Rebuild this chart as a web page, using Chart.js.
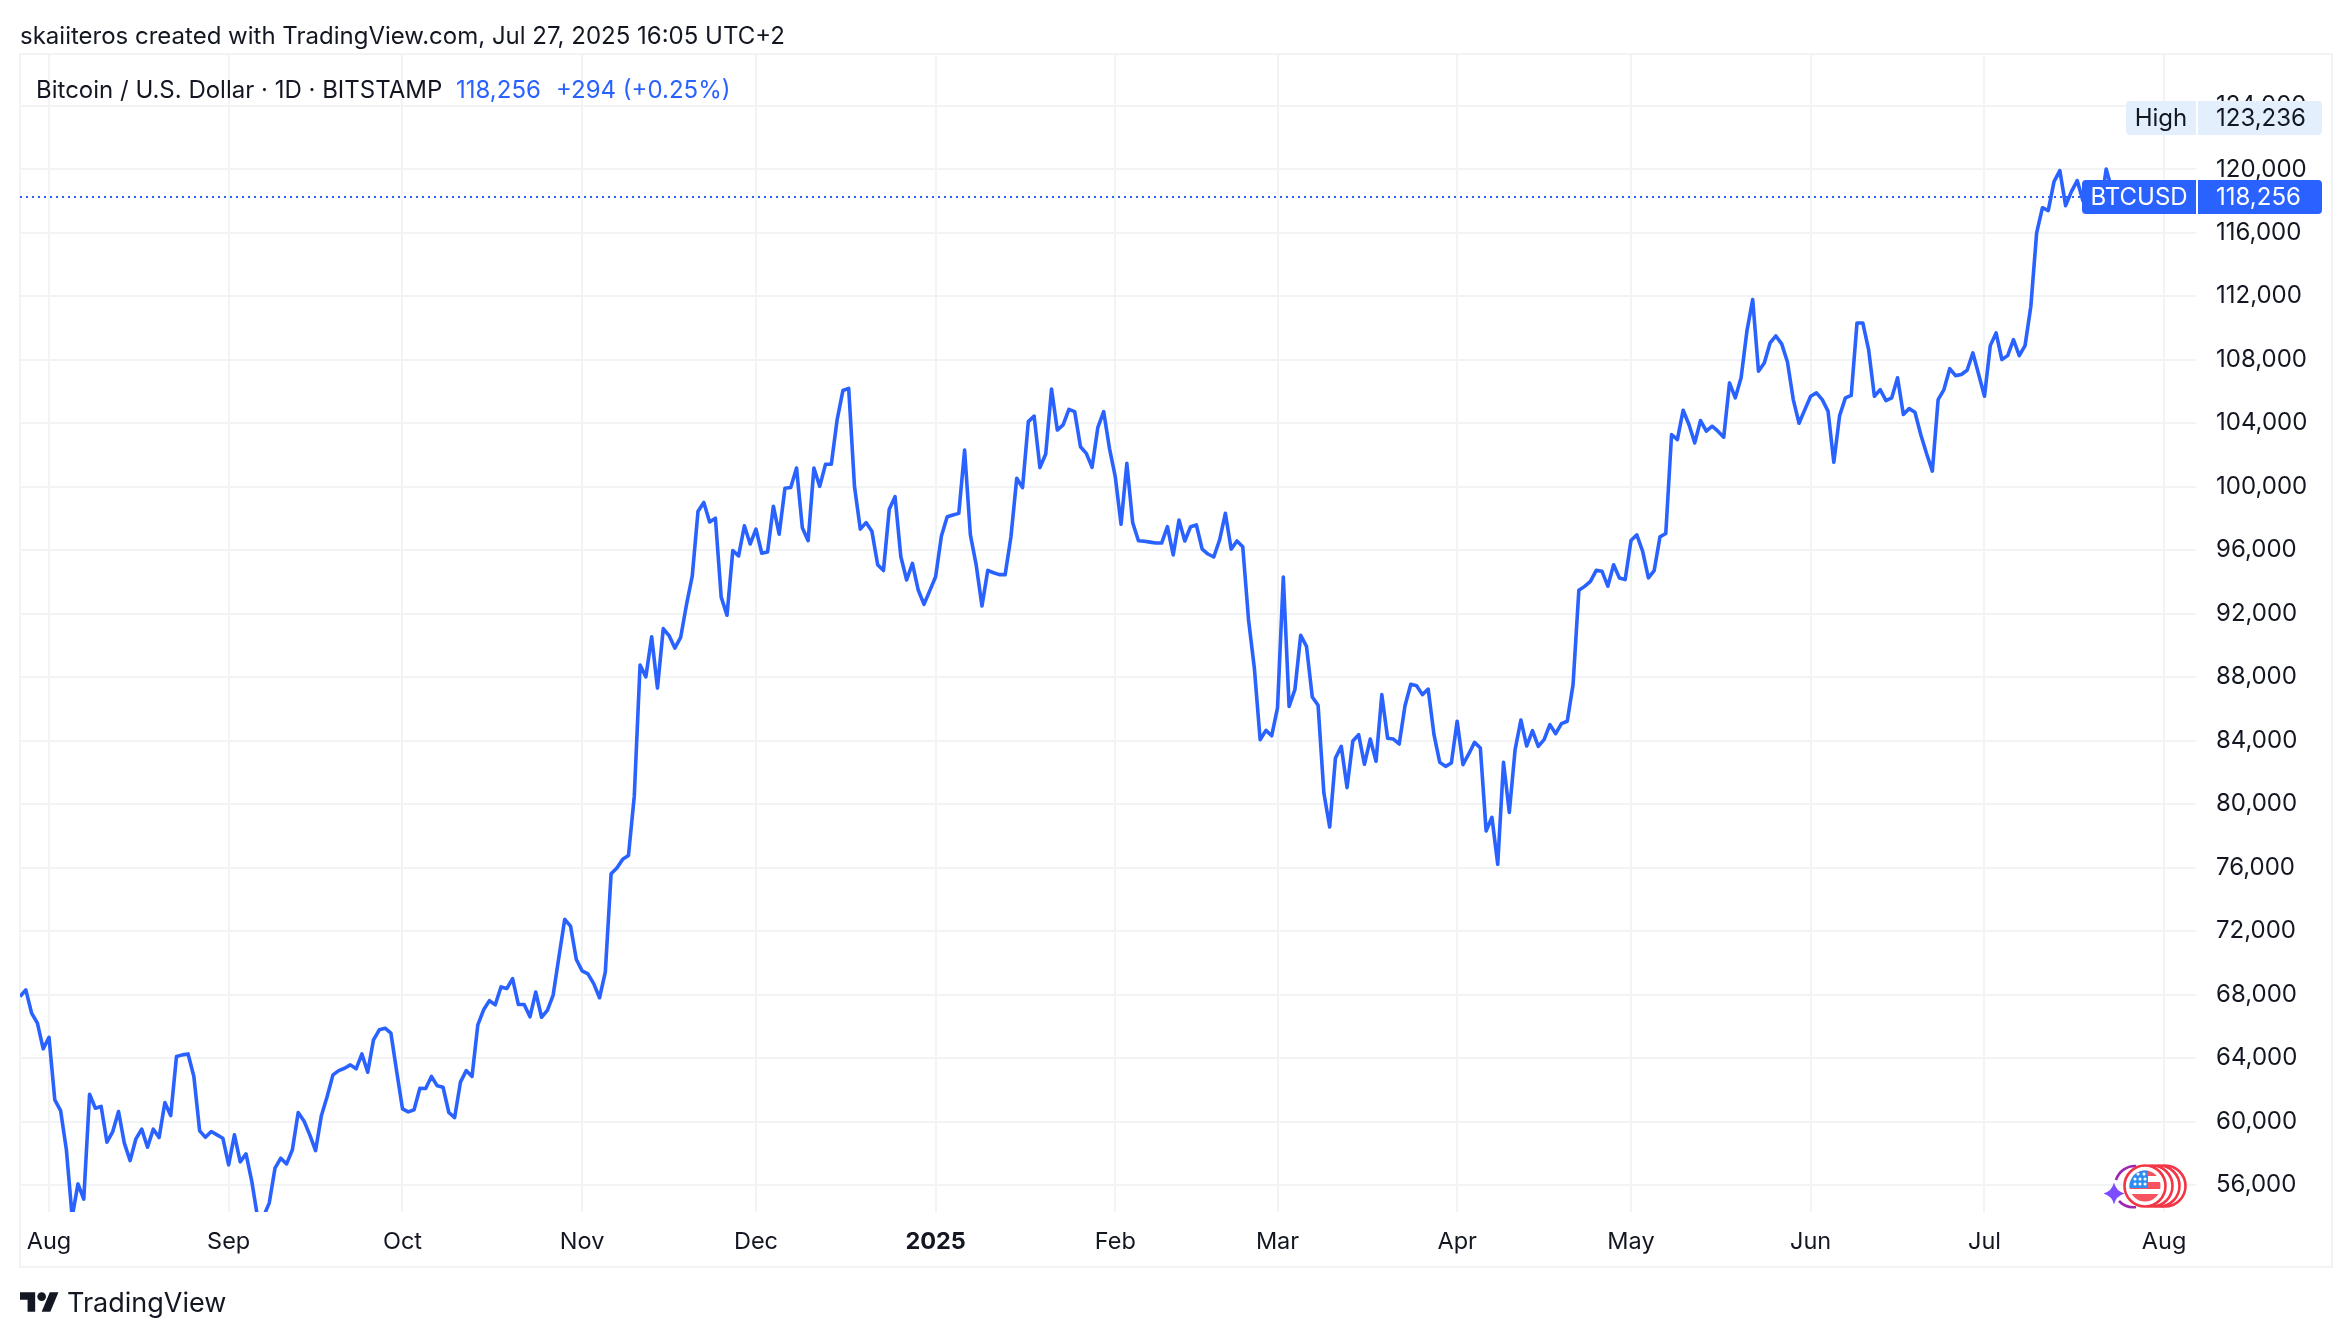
<!DOCTYPE html>
<html lang="en">
  <head>
    <meta charset="UTF-8" />
    <title>Bitcoin / U.S. Dollar</title>
    <script src="https://cdn.jsdelivr.net/npm/chart.js"></script>
    <style>
      body { margin: 0; background: #fff; width: 2352px; height: 1338px; position: relative; overflow: hidden;
             font-family: Inter, "Noto Sans", sans-serif; color: #131722; }
      canvas { position: absolute; left: 0; top: 0; }
      .txt { position: absolute; white-space: pre; line-height: 32px; }
      .blue { color: #2962ff; }
      svg { position: absolute; overflow: visible; }
    </style>
  </head>

  <body>
    <canvas id="btc-chart" width="2352" height="1338"></canvas>

    <div class="txt" style="left: 20px; top: 20px; font-size: 24px">skaiiteros created with TradingView.com, Jul 27, 2025 16:05 UTC+2</div>
    <div class="txt" style="left: 36px; top: 74px; font-size: 24px">Bitcoin / U.S. Dollar · 1D · BITSTAMP</div>
    <div class="txt blue" style="left: 456px; top: 74px; font-size: 24px">118,256</div>
    <div class="txt blue" style="left: 556px; top: 74px; font-size: 24px">+294 (+0.25%)</div>

    <!-- footer logo -->
    <svg style="left: 20px; top: 1292px" width="39" height="20" viewBox="0 4 36 18">
      <path d="M14 22H7V11H0V4h14v18zM28 22h-8l7.5-18h8L28 22z" fill="#131722" />
      <circle cx="20" cy="8" r="4" fill="#131722" />
    </svg>
    <div class="txt" style="left: 67px; top: 1287px; font-size: 27px">TradingView</div>

    <!-- economic event badge on the time axis -->
    <svg style="left: 2100px; top: 1155px" width="100" height="60" viewBox="0 0 100 60">
      <defs>
        <clipPath id="flag-disk"><circle cx="45" cy="31" r="15.5" /></clipPath>
      </defs>
      <path d="M16 25A20 20 0 0 1 36 11M19 46A20 20 0 0 0 36 52" fill="none" stroke="#9c27b0" stroke-width="2.6" />
      <g fill="#fff" stroke="#f23645" stroke-width="2.6">
        <circle cx="65" cy="31" r="20.5" />
        <circle cx="59" cy="31" r="20.5" />
        <circle cx="52" cy="31" r="20.5" />
        <circle cx="45" cy="31" r="20.5" />
      </g>
      <g clip-path="url(#flag-disk)">
        <rect x="29" y="15" width="32" height="6" fill="#f7525f" />
        <rect x="29" y="27" width="32" height="7" fill="#f7525f" />
        <rect x="29" y="39" width="32" height="8" fill="#f7525f" />
        <rect x="29" y="15" width="19" height="18" fill="#2e8ff0" />
        <g fill="#fff">
          <circle cx="38" cy="19" r="1.5" /><circle cx="44" cy="19" r="1.5" />
          <circle cx="35" cy="24" r="1.5" /><circle cx="40" cy="24" r="1.5" /><circle cx="45" cy="24" r="1.5" />
          <circle cx="35" cy="29" r="1.5" /><circle cx="40" cy="29" r="1.5" /><circle cx="45" cy="29" r="1.5" />
        </g>
      </g>
      <path d="M14 27.5Q16 36 24.5 38.5Q16 41 14 49.5Q12 41 3.5 38.5Q12 36 14 27.5Z" fill="#7b4dff" />
    </svg>

    <script>
      // days counted from 1 Aug 2024
      const firstDay = -5;
      const monthDays = [0, 31, 61, 92, 122, 153, 184, 212, 243, 273, 304, 334, 365];
      const monthLabels = ["Aug", "Sep", "Oct", "Nov", "Dec", "2025", "Feb", "Mar", "Apr", "May", "Jun", "Jul", "Aug"];
      const priceTicks = [56000, 60000, 64000, 68000, 72000, 76000, 80000, 84000, 88000, 92000, 96000, 100000,
        104000, 108000, 112000, 116000, 120000, 124000];
      const lastPrice = 118256;
      const highPrice = 123236;

      // daily closes, 27 Jul 2024 to 27 Jul 2025
      const closes = [
        67880, 68300, 66830, 66200, 64580,
        // Aug
        65310, 61370, 60690, 58220, 53990, 56070, 55110, 61720, 60840, 60950, 58700, 59370, 60630, 58640, 57540, 58910,
        59520, 58380, 59520, 58990, 61200, 60380, 64100, 64200, 64260, 62840, 59410, 59010, 59370, 59160, 58950,
        // Sep
        57270, 59160, 57460, 57960, 56220, 53950, 54000, 54860, 57060, 57690, 57330, 58220, 60570, 60040, 59160,
        58170, 60360, 61580, 62940, 63210, 63360, 63570, 63320, 64260, 63110, 65150, 65780, 65880, 65570, 63150,
        // Oct
        60800, 60610, 60740, 62100, 62080, 62840, 62250, 62160, 60570, 60250, 62480, 63210, 62840, 66090, 67040, 67620,
        67350, 68480, 68380, 69010, 67370, 67370, 66600, 68160, 66570, 67010, 67970, 70380, 72740, 72310, 70210,
        // Nov
        69490, 69300, 68690, 67800, 69420, 75610, 75970, 76530, 76770, 80500, 88770, 88020, 90550, 87320, 91060,
        90620, 89830, 90500, 92550, 94360, 98460, 99010, 97780, 98020, 93040, 91900, 95980, 95640, 97540, 96390,
        // Dec
        97330, 95810, 95880, 98770, 97010, 99900, 99950, 101180, 97420, 96600, 101180, 100020, 101420, 101420, 104210, 106060,
        106200, 100010, 97330, 97740, 97200, 95080, 94720, 98580, 99370, 95590, 94120, 95170, 93490, 92590, 93450,
        // Jan
        94330, 96890, 98110, 98220, 98320, 102310, 96960, 95070, 92480, 94730, 94580, 94460, 94460, 96850, 100530, 99940,
        104100, 104450, 101200, 102060, 106150, 103570, 103890, 104870, 104730, 102520, 102100, 101220, 103740, 104730, 102420,
        // Feb
        100630, 97630, 101470, 97750, 96600, 96560, 96510, 96450, 96450, 97480, 95700, 97900, 96580, 97480,
        97590, 96070, 95760, 95570, 96640, 98320, 96070, 96580, 96220, 91620, 88580, 84060, 84650, 84310,
        // Mar
        86060, 94310, 86160, 87210, 90640, 89940, 86750, 86230, 80700, 78560, 82910, 83640, 81040, 83980, 84380, 82510,
        84100, 82700, 86900, 84150, 84100, 83790, 86200, 87550, 87460, 86900, 87250, 84380, 82630, 82380, 82590,
        // Apr
        85220, 82490, 83160, 83890, 83540, 78310, 79170, 76210, 82630, 79480, 83430, 85300, 83660, 84630, 83640,
        84060, 85010, 84440, 85070, 85220, 87530, 93470, 93720, 94040, 94730, 94670, 93730, 95080, 94250, 94150,
        // May
        96610, 96970, 95940, 94260, 94720, 96840, 97050, 103290, 102970, 104820, 103920, 102760, 104170, 103500, 103810, 103500,
        103120, 106540, 105600, 106860, 109800, 111790, 107280, 107800, 109060, 109500, 109000, 107860, 105490, 104000, 104860,
        // Jun
        105700, 105910, 105490, 104760, 101540, 104480, 105600, 105760, 110320, 110320, 108640, 105700, 106120, 105430, 105600,
        106860, 104550, 104920, 104690, 103290, 102090, 100980, 105490, 106120, 107440, 107000, 107070, 107340, 108430, 107070,
        // Jul
        105700, 108890, 109690, 108010, 108260, 109270, 108260, 108890, 111370, 116000, 117580, 117400, 119220, 119920,
        117710, 118590, 119290, 118000, 117900, 117300, 117400, 120020, 118700, 118400, 117600, 117950, lastPrice,
      ];

      const paneLeftDay = -5.004;
      const paneRightDay = 370.5;
      const paneMin = 54300;
      const paneMax = 127265;

      const gridColor = "#f2f3f4";
      const fontFamily = 'Inter, "Noto Sans", sans-serif';

      // High and BTCUSD tags sitting on the price axis
      const priceTags = {
        id: "priceTags",
        afterDraw(chart) {
          const { ctx, chartArea, scales } = chart;
          const right = chartArea.right;
          const drawTag = (name, value, bg, fg, nameLeft) => {
            const y = Math.round(scales.y.getPixelForValue(value));
            ctx.fillStyle = bg;
            ctx.beginPath();
            ctx.roundRect(nameLeft, y - 17, right - nameLeft, 34, [4, 0, 0, 4]);
            ctx.roundRect(right + 2, y - 17, 124, 34, [0, 4, 4, 0]);
            ctx.fill();
            ctx.fillStyle = fg;
            ctx.font = "24px " + fontFamily;
            ctx.textBaseline = "middle";
            ctx.textAlign = "center";
            ctx.fillText(name, (nameLeft + right) / 2, y + 1);
            ctx.textAlign = "left";
            ctx.fillText(value.toLocaleString("en-US"), right + 20, y + 1);
          };
          ctx.save();
          drawTag("High", highPrice, "#e3effd", "#131722", right - 70);
          drawTag("BTCUSD", lastPrice, "#2962ff", "#ffffff", right - 114);
          ctx.restore();
        },
      };

      // outer frame around pane and axes
      const outerFrame = {
        id: "outerFrame",
        beforeDraw(chart) {
          const { ctx } = chart;
          ctx.save();
          ctx.strokeStyle = gridColor;
          ctx.lineWidth = 2;
          ctx.strokeRect(20, 54, 2312, 1213);
          ctx.restore();
        },
      };

      new Chart(document.getElementById("btc-chart").getContext("2d"), {
        type: "line",
        data: {
          datasets: [
            {
              label: "BTCUSD",
              data: closes.map((v, i) => ({ x: firstDay + i, y: v })),
              borderColor: "#2962ff",
              borderWidth: 3.6,
              borderJoinStyle: "round",
              pointRadius: 0,
              tension: 0,
              clip: 0,
            },
            {
              label: "Last",
              data: [
                { x: paneLeftDay, y: lastPrice },
                { x: paneRightDay, y: lastPrice },
              ],
              borderColor: "#2962ff",
              borderWidth: 2,
              borderDash: [2, 4],
              pointRadius: 0,
              clip: 0,
            },
          ],
        },
        options: {
          responsive: false,
          animation: false,
          layout: { padding: { left: 20, top: 54, right: 20, bottom: 71 } },
          plugins: { legend: { display: false }, tooltip: { enabled: false } },
          scales: {
            x: {
              type: "linear",
              min: paneLeftDay,
              max: paneRightDay,
              afterBuildTicks: (scale) => {
                scale.ticks = monthDays.map((d) => ({ value: d }));
              },
              afterFit: (scale) => {
                scale.height = 55;
              },
              border: { display: false },
              grid: { color: gridColor, lineWidth: 2, drawTicks: false },
              ticks: {
                autoSkip: false,
                maxRotation: 0,
                padding: 16,
                color: "#131722",
                font: (ctx) => ({
                  family: fontFamily,
                  size: 23.5,
                  weight: monthLabels[ctx.index] === "2025" ? "700" : "400",
                }),
                callback: (value, i) => monthLabels[i],
              },
            },
            y: {
              position: "right",
              min: paneMin,
              max: paneMax,
              afterBuildTicks: (scale) => {
                scale.ticks = priceTicks.map((p) => ({ value: p }));
              },
              afterFit: (scale) => {
                scale.width = 136;
              },
              border: { display: false },
              grid: { color: gridColor, lineWidth: 2, drawTicks: false },
              ticks: {
                padding: 20,
                color: "#131722",
                font: { family: fontFamily, size: 24 },
                callback: (value) => value.toLocaleString("en-US"),
              },
            },
          },
        },
        plugins: [outerFrame, priceTags],
      });
    </script>
  </body>
</html>
